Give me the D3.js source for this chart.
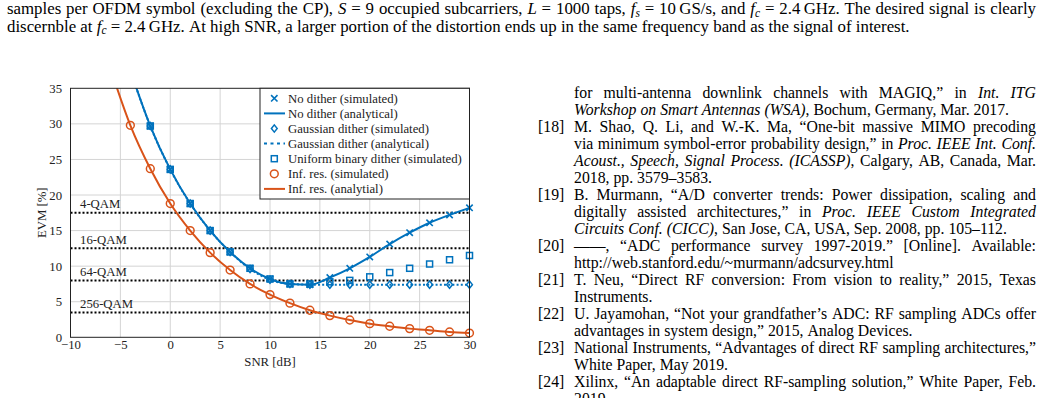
<!DOCTYPE html>
<html><head><meta charset="utf-8">
<script src="https://cdn.jsdelivr.net/npm/d3@7"></script>
<style>html,body{margin:0;padding:0;background:#fff;} svg{display:block}</style>
</head><body>
<svg id="page" width="1043" height="398"></svg>
<script>
// ---------------- chart data ----------------
const snrSim   = [-2, 0, 2, 4, 6, 8, 10, 12, 14, 16, 18, 20, 22, 24, 26, 28, 30];
const snrAna   = [-4, -2, 0, 2, 4, 6, 8, 10, 12, 14, 16, 18, 20, 22, 24, 26, 28, 30];
const snrInf   = [-4, -2, 0, 2, 4, 6, 8, 10, 12, 14, 16, 18, 20, 22, 24, 26, 28, 30];
const snrInfAna= [-6, -4, -2, 0, 2, 4, 6, 8, 10, 12, 14, 16, 18, 20, 22, 24, 26, 28, 30];

const noDitherSim  = [29.7, 23.6, 18.8, 15.0, 12.0, 9.7, 8.2, 7.5, 7.4, 8.4, 9.7, 11.3, 13.1, 14.7, 16.1, 17.2, 18.2];
const noDitherAna  = [37.5, 29.7, 23.6, 18.8, 15.0, 12.0, 9.7, 8.2, 7.5, 7.4, 8.4, 9.7, 11.3, 13.1, 14.7, 16.1, 17.2, 18.2];
const gaussSim     = [29.7, 23.6, 18.8, 15.0, 12.0, 9.6, 8.1, 7.5, 7.4, 7.4, 7.4, 7.4, 7.4, 7.4, 7.4, 7.4, 7.4];
const gaussAna     = [37.5, 29.7, 23.6, 18.8, 15.0, 12.0, 9.6, 8.1, 7.5, 7.4, 7.4, 7.4, 7.4, 7.4, 7.4, 7.4, 7.4, 7.4];
const uniformSim   = [29.7, 23.6, 18.8, 15.0, 12.0, 9.7, 8.2, 7.5, 7.5, 7.8, 8.0, 8.5, 9.1, 9.7, 10.3, 10.9, 11.5];
const infSim       = [29.8, 23.7, 18.8, 15.0, 11.9, 9.45, 7.5, 6.0, 4.8, 3.8, 3.05, 2.43, 1.92, 1.55, 1.22, 0.98, 0.75, 0.6];
const infAna       = [37.8, 29.8, 23.7, 18.8, 15.0, 11.9, 9.45, 7.5, 6.0, 4.8, 3.8, 3.05, 2.43, 1.92, 1.55, 1.22, 0.98, 0.75, 0.6];

const qamLabels = ["4-QAM", "16-QAM", "64-QAM", "256-QAM"];
const qamEVM    = [17.5, 12.5, 8.0, 3.5];

const xTicks = [-10, -5, 0, 5, 10, 15, 20, 25, 30];
const yTicks = [0, 5, 10, 15, 20, 25, 30, 35];

const legendLabels = ["No dither (simulated)", "No dither (analytical)", "Gaussian dither (simulated)",
  "Gaussian dither (analytical)", "Uniform binary dither (simulated)", "Inf. res. (simulated)", "Inf. res. (analytial)"];

// ---------------- page text ----------------
const captionLines = [
  "samples per OFDM symbol (excluding the CP), *S* = 9 occupied subcarriers, *L* = 1000 taps, *f_s* = 10\u2009GS/s, and *f_c* = 2.4\u2009GHz. The desired signal is clearly",
  "discernble at *f_c* = 2.4\u2009GHz. At high SNR, a larger portion of the distortion ends up in the same frequency band as the signal of interest."
];
const refLabels = ["", "", "[18]", "", "", "", "[19]", "", "", "[20]", "", "[21]", "", "[22]", "", "[23]", "", "[24]", ""];
const refTexts = [
  "for multi-antenna downlink channels with MAGIQ,\u201d in *Int. ITG*",
  "*Workshop on Smart Antennas (WSA)*, Bochum, Germany, Mar. 2017.",
  "M. Shao, Q. Li, and W.-K. Ma, \u201cOne-bit massive MIMO precoding",
  "via minimum symbol-error probability design,\u201d in *Proc. IEEE Int. Conf.*",
  "*Acoust., Speech, Signal Process. (ICASSP)*, Calgary, AB, Canada, Mar.",
  "2018, pp. 3579\u20133583.",
  "B. Murmann, \u201cA/D converter trends: Power dissipation, scaling and",
  "digitally assisted architectures,\u201d in *Proc. IEEE Custom Integrated*",
  "*Circuits Conf. (CICC)*, San Jose, CA, USA, Sep. 2008, pp. 105\u2013112.",
  "\u2014\u2014, \u201cADC performance survey 1997-2019.\u201d [Online]. Available:",
  "http://web.stanford.edu/~murmann/adcsurvey.html",
  "T. Neu, \u201cDirect RF conversion: From vision to reality,\u201d 2015, Texas",
  "Instruments.",
  "U. Jayamohan, \u201cNot your grandfather\u2019s ADC: RF sampling ADCs offer",
  "advantages in system design,\u201d 2015, Analog Devices.",
  "National Instruments, \u201cAdvantages of direct RF sampling architectures,\u201d",
  "White Paper, May 2019.",
  "Xilinx, \u201cAn adaptable direct RF-sampling solution,\u201d White Paper, Feb.",
  "2019."
];
const refJustify = [true,false,true,true,true,false,true,true,false,true,false,true,false,true,false,true,false,true,false];

// ---------------- helpers ----------------
const SERIF = "'Liberation Serif','Times New Roman',serif";
const svg = d3.select("#page");

function measure(str, fs) {
  const t = svg.append("text").attr("font-family", SERIF).attr("font-size", fs).text(str);
  const w = t.node().getComputedTextLength(); t.remove(); return w;
}

function parseLine(str) {
  const words = []; let word = []; let run = {t: "", it: false, sub: false}; let it = false;
  const pushRun = () => { if (run.t.length) word.push(run); run = {t: "", it: it, sub: false}; };
  for (let i = 0; i < str.length; i++) {
    const c = str[i];
    if (c === "*") { pushRun(); it = !it; run.it = it; }
    else if (c === "_") { pushRun(); word.push({t: str[i + 1], it: it, sub: true}); i++; }
    else if (c === " ") { pushRun(); if (word.length) words.push(word); word = []; }
    else run.t += c;
  }
  pushRun(); if (word.length) words.push(word);
  return words;
}

function drawLine(g, str, x0, x1, yb, justify, fs) {
  const words = parseLine(str);
  const els = words.map(w => {
    const t = g.append("text").attr("y", yb).attr("font-family", SERIF).attr("font-size", fs).attr("fill", "#000");
    let shifted = false;
    w.forEach(r => {
      const ts = t.append("tspan").text(r.t).attr("font-style", r.it ? "italic" : "normal");
      if (r.sub) { ts.attr("font-size", fs * 0.68).attr("dy", fs * 0.15); shifted = true; }
      else if (shifted) { ts.attr("dy", -fs * 0.15); shifted = false; }
    });
    return t;
  });
  const widths = els.map(e => e.node().getComputedTextLength());
  const total = d3.sum(widths);
  const space = fs * 0.25;
  let gap = space;
  if (justify && els.length > 1) gap = (x1 - x0 - total) / (els.length - 1);
  let cx = x0;
  els.forEach((e, i) => { e.attr("x", cx); cx += widths[i] + gap; });
  return {total, n: els.length};
}

function naturalWidth(str, fs) {
  const g = svg.append("g");
  const r = drawLine(g, str, 0, 3000, 0, false, fs);
  g.remove();
  return r.total + (r.n - 1) * fs * 0.25;
}

// ---------------- page text ----------------
const capFS = 12 * 903 / naturalWidth(captionLines[1], 12);
const capG = svg.append("g");
drawLine(capG, captionLines[0], 7, 1036, 14, true, capFS);
drawLine(capG, captionLines[1], 7, 1036, 31.5, false, capFS);

// reference font: largest size at which every justified line still fits the column
const refFS = d3.min(refTexts.filter((t, i) => refJustify[i]), t => 12 * 462 / naturalWidth(t, 12)) * 0.995;
const refG = svg.append("g");
refTexts.forEach((t, i) => {
  const yb = 97.5 + i * 17.0;
  if (refLabels[i]) refG.append("text").attr("x", 538).attr("y", yb).attr("font-family", SERIF)
    .attr("font-size", refFS).text(refLabels[i]);
  drawLine(refG, t, 574, 1036, yb, refJustify[i], refFS);
});

// ---------------- chart ----------------
const chartFS = 11 * 174 / measure(legendLabels[4], 11);
const x = d3.scaleLinear().domain([-10, 30]).range([70.5, 469.5]);
const y = d3.scaleLinear().domain([0, 35]).range([337.3, 88.3]);
const BLUE = "#0072BD", ORANGE = "#D95319";
const ch = svg.append("g");

ch.append("clipPath").attr("id", "plotclip").append("rect")
  .attr("x", x(-10)).attr("y", y(35)).attr("width", x(30) - x(-10)).attr("height", y(0) - y(35));

// grid
ch.append("g").selectAll("line").data(xTicks.slice(1, -1)).join("line")
  .attr("x1", d => x(d)).attr("x2", d => x(d)).attr("y1", y(0)).attr("y2", y(35))
  .attr("stroke", "#d4d4d4").attr("stroke-width", 1);
ch.append("g").selectAll("line").data(yTicks.slice(1, -1)).join("line")
  .attr("y1", d => y(d)).attr("y2", d => y(d)).attr("x1", x(-10)).attr("x2", x(30))
  .attr("stroke", "#d4d4d4").attr("stroke-width", 1);

// axes (labels)
const xa = ch.append("g").attr("transform", `translate(0,${y(0)})`)
  .call(d3.axisBottom(x).tickValues(xTicks).tickSize(0).tickPadding(0));
xa.select(".domain").remove();
xa.selectAll("text").attr("dy", null).attr("y", 11.3);
xa.attr("font-family", SERIF).attr("font-size", chartFS);
const ya = ch.append("g").attr("transform", `translate(${x(-10)},0)`)
  .call(d3.axisLeft(y).tickValues(yTicks).tickSize(0).tickPadding(8.5));
ya.select(".domain").remove();
ya.attr("font-family", SERIF).attr("font-size", chartFS);
[xa, ya].forEach(a => a.selectAll("text").attr("fill", "#222"));

ch.append("text").attr("x", (x(-10) + x(30)) / 2).attr("y", 366).attr("text-anchor", "middle")
  .attr("font-family", SERIF).attr("font-size", chartFS).attr("fill", "#222").text("SNR [dB]");
ch.append("text").attr("transform", `translate(46,${(y(0) + y(35)) / 2}) rotate(-90)`).attr("text-anchor", "middle")
  .attr("font-family", SERIF).attr("font-size", chartFS).attr("fill", "#222").text("EVM [%]");

// QAM thresholds
ch.append("g").selectAll("line").data(qamEVM).join("line")
  .attr("x1", x(-10)).attr("x2", x(30)).attr("y1", d => y(d)).attr("y2", d => y(d))
  .attr("stroke", "#000").attr("stroke-width", 2).attr("stroke-dasharray", "2,2");
ch.append("g").selectAll("text").data(qamLabels).join("text")
  .attr("x", 80).attr("y", (d, i) => y(qamEVM[i]) - 4.5)
  .attr("font-family", SERIF).attr("font-size", chartFS).attr("fill", "#222").text(d => d);

// curves
const line = d3.line().x(d => x(d[0])).y(d => y(d[1])).curve(d3.curveMonotoneX);
const curves = ch.append("g").attr("clip-path", "url(#plotclip)");
curves.append("path").datum(d3.zip(snrInfAna, infAna)).attr("d", line)
  .attr("fill", "none").attr("stroke", ORANGE).attr("stroke-width", 2);
curves.append("path").datum(d3.zip(snrAna, noDitherAna)).attr("d", line)
  .attr("fill", "none").attr("stroke", BLUE).attr("stroke-width", 2);
curves.append("path").datum(d3.zip(snrAna, gaussAna)).attr("d", line)
  .attr("fill", "none").attr("stroke", BLUE).attr("stroke-width", 2).attr("stroke-dasharray", "2,2.2");

// markers
const xMark = "M-3.2,-3.2L3.2,3.2M-3.2,3.2L3.2,-3.2";
const diamond = "M0,-3.6L2.9,0L0,3.6L-2.9,0Z";
const mk = ch.append("g");
mk.selectAll("rect").data(d3.zip(snrSim, uniformSim)).join("rect")
  .attr("x", d => x(d[0]) - 3).attr("y", d => y(d[1]) - 3).attr("width", 6).attr("height", 6)
  .attr("fill", "none").attr("stroke", BLUE).attr("stroke-width", 1.5);
mk.append("g").selectAll("path").data(d3.zip(snrSim, gaussSim)).join("path")
  .attr("transform", d => `translate(${x(d[0])},${y(d[1])})`).attr("d", diamond)
  .attr("fill", "none").attr("stroke", BLUE).attr("stroke-width", 1.5);
mk.append("g").selectAll("path").data(d3.zip(snrSim, noDitherSim)).join("path")
  .attr("transform", d => `translate(${x(d[0])},${y(d[1])})`).attr("d", xMark)
  .attr("fill", "none").attr("stroke", BLUE).attr("stroke-width", 1.6);
mk.selectAll("circle").data(d3.zip(snrInf, infSim)).join("circle")
  .attr("cx", d => x(d[0])).attr("cy", d => y(d[1])).attr("r", 3.9)
  .attr("fill", "none").attr("stroke", ORANGE).attr("stroke-width", 1.5);

// frame
ch.append("rect").attr("x", x(-10)).attr("y", y(35)).attr("width", x(30) - x(-10)).attr("height", y(0) - y(35))
  .attr("fill", "none").attr("stroke", "#222").attr("stroke-width", 1);

// legend
const lg = ch.append("g");
lg.append("rect").attr("x", 260).attr("y", y(35)).attr("width", x(30) - 260).attr("height", 110.7)
  .attr("fill", "#fff").attr("stroke", "#222").attr("stroke-width", 1);
const rowY = i => 98.3 + i * 15.1;
const mx = 274.3;
lg.append("path").attr("transform", `translate(${mx},${rowY(0)})`).attr("d", xMark).attr("stroke", BLUE).attr("stroke-width", 1.6);
lg.append("line").attr("x1", 264).attr("x2", 285).attr("y1", rowY(1)).attr("y2", rowY(1)).attr("stroke", BLUE).attr("stroke-width", 2);
lg.append("path").attr("transform", `translate(${mx},${rowY(2)})`).attr("d", diamond).attr("fill", "none").attr("stroke", BLUE).attr("stroke-width", 1.5);
lg.append("line").attr("x1", 264).attr("x2", 285).attr("y1", rowY(3)).attr("y2", rowY(3)).attr("stroke", BLUE).attr("stroke-width", 2).attr("stroke-dasharray", "3,3.5");
lg.append("rect").attr("x", mx - 3).attr("y", rowY(4) - 3).attr("width", 6).attr("height", 6).attr("fill", "none").attr("stroke", BLUE).attr("stroke-width", 1.5);
lg.append("circle").attr("cx", mx).attr("cy", rowY(5)).attr("r", 3.9).attr("fill", "none").attr("stroke", ORANGE).attr("stroke-width", 1.5);
lg.append("line").attr("x1", 264).attr("x2", 285).attr("y1", rowY(6)).attr("y2", rowY(6)).attr("stroke", ORANGE).attr("stroke-width", 2);
lg.selectAll("text").data(legendLabels).join("text")
  .attr("x", 288).attr("y", (d, i) => rowY(i)).attr("dy", "0.33em")
  .attr("font-family", SERIF).attr("font-size", chartFS).attr("fill", "#222").text(d => d);
</script>
</body></html>
